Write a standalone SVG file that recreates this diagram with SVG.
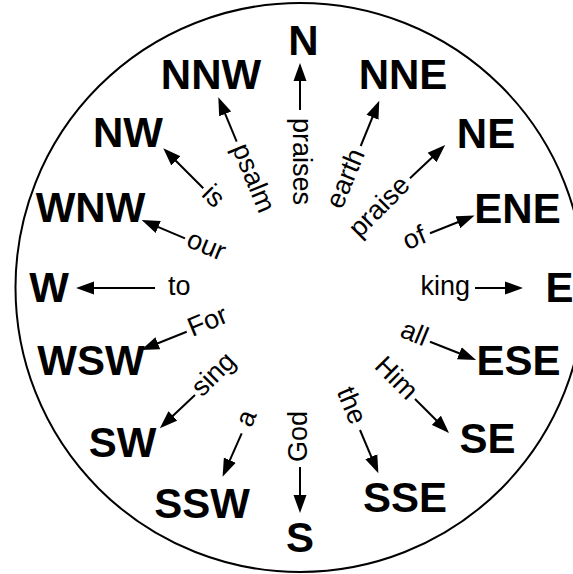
<svg xmlns="http://www.w3.org/2000/svg" width="573" height="574" viewBox="0 0 573 574">
<style>
.lbl{font-family:"Liberation Sans",Arial,sans-serif;font-weight:bold;font-size:42px;text-anchor:middle;fill:#000}
.w{font-family:"Liberation Sans",Arial,sans-serif;font-size:27px;fill:#000}
.in{text-anchor:start}
.out{text-anchor:end}
.ar{stroke:#000;stroke-width:2;fill:none;marker-end:url(#ah)}
</style>
<defs>
<marker id="ah" viewBox="0 -7 18 14" refX="12" refY="0" markerWidth="18" markerHeight="14" markerUnits="userSpaceOnUse" orient="auto">
<path d="M18,0 L0,-6.5 L0,6.5 Z" fill="#000"/>
</marker>
</defs>
<rect width="573" height="574" fill="#fff"/>
<circle id="rim" cx="300" cy="287.5" r="284.5" fill="none" stroke="#000" stroke-width="2"/>
<g id="connectors">
<g id="c-n"><line class="ar" x1="300" y1="110" x2="300" y2="69"/><text class="w in" transform="translate(300,118) rotate(90)" y="7">praises</text></g>
<g id="c-nnw"><line class="ar" x1="236.7" y1="141.7" x2="220.6" y2="102.8"/><text class="w in" transform="translate(238.2,145.4) rotate(67.5)" y="7">psalm</text></g>
<g id="c-nw"><line class="ar" x1="203.3" y1="188.3" x2="167.5" y2="152.5"/><text class="w in" transform="translate(205.4,190.4) rotate(45)" y="7">is</text></g>
<g id="c-wnw"><line class="ar" x1="185" y1="238.3" x2="147.2" y2="222.3"/><text class="w in" transform="translate(187.8,239.5) rotate(22.5)" y="7">our</text></g>
<g id="c-w"><line class="ar" x1="155" y1="288" x2="82" y2="288"/><text class="w in" transform="translate(168,288)" y="7">to</text></g>
<g id="c-wsw"><line class="ar" x1="186.7" y1="331.7" x2="146.7" y2="347.7"/><text class="w in" transform="translate(189.5,330.5) rotate(-22.5)" y="7">For</text></g>
<g id="c-sw"><line class="ar" x1="195" y1="395" x2="164.2" y2="424.1"/><text class="w in" transform="translate(197.1,392.9) rotate(-45)" y="7">sing</text></g>
<g id="c-ssw"><line class="ar" x1="241.7" y1="433.3" x2="225" y2="471.2"/><text class="w in" transform="translate(244.8,425.9) rotate(-67.5)" y="7">a</text></g>
<g id="c-s"><line class="ar" x1="300" y1="467" x2="300" y2="507"/><text class="w in" transform="translate(300,462) rotate(-90)" y="7">God</text></g>
<g id="c-sse"><line class="ar" x1="360" y1="430" x2="376" y2="467.8"/><text class="w out" transform="translate(357.3,423.5) rotate(67.5)" y="7">the</text></g>
<g id="c-se"><line class="ar" x1="415" y1="399" x2="444.8" y2="428.8"/><text class="w out" transform="translate(412.2,396.2) rotate(45)" y="7">Him</text></g>
<g id="c-ese"><line class="ar" x1="430" y1="341.7" x2="470.5" y2="357.7"/><text class="w out" transform="translate(426.3,340.2) rotate(22.5)" y="7">all</text></g>
<g id="c-e"><line class="ar" x1="475" y1="288" x2="517" y2="288"/><text class="w out" transform="translate(470,288)" y="7">king</text></g>
<g id="c-ene"><line class="ar" x1="430" y1="233.3" x2="469" y2="217.8"/><text class="w out" transform="translate(425.4,235.2) rotate(-22.5)" y="7">of</text></g>
<g id="c-ne"><line class="ar" x1="410" y1="178.3" x2="440.8" y2="149.2"/><text class="w out" transform="translate(406.5,181.8) rotate(-45)" y="7">praise</text></g>
<g id="c-nne"><line class="ar" x1="360.7" y1="146" x2="377" y2="106.2"/><text class="w out" transform="translate(358.8,150.6) rotate(-67.5)" y="7">earth</text></g>
</g>
<g id="n-N"><text class="lbl" x="303.5" y="55">N</text></g>
<g id="n-NNW"><text class="lbl" x="211" y="89">NNW</text></g>
<g id="n-NNE"><text class="lbl" x="403" y="89">NNE</text></g>
<g id="n-NW"><text class="lbl" x="128" y="147">NW</text></g>
<g id="n-NE"><text class="lbl" x="486" y="148">NE</text></g>
<g id="n-WNW"><text class="lbl" x="90.5" y="222">WNW</text></g>
<g id="n-ENE"><text class="lbl" x="517.5" y="223">ENE</text></g>
<g id="n-W"><text class="lbl" x="49" y="302">W</text></g>
<g id="n-E"><text class="lbl" x="559.5" y="302">E</text></g>
<g id="n-WSW"><text class="lbl" x="91" y="375">WSW</text></g>
<g id="n-ESE"><text class="lbl" x="518.5" y="375">ESE</text></g>
<g id="n-SW"><text class="lbl" x="122.5" y="457">SW</text></g>
<g id="n-SE"><text class="lbl" x="487.5" y="453">SE</text></g>
<g id="n-SSW"><text class="lbl" x="202" y="518">SSW</text></g>
<g id="n-SSE"><text class="lbl" x="405" y="512">SSE</text></g>
<g id="n-S"><text class="lbl" x="300" y="552">S</text></g>
</svg>
